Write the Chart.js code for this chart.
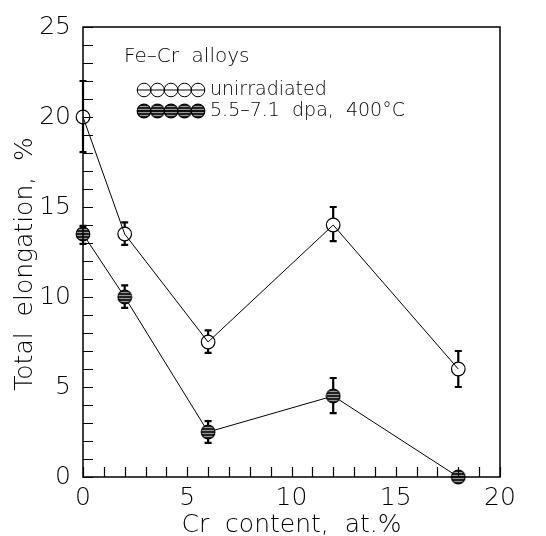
<!DOCTYPE html>
<html>
<head>
<meta charset="utf-8">
<script src="https://cdn.jsdelivr.net/npm/chart.js@4"></script>
<style>
  html, body { margin: 0; padding: 0; background: #fff; }
</style>
</head>
<body>
<canvas id="chart" width="546" height="536"></canvas>
<script>
// data
const crContent = [0, 2, 6, 12, 18];
const unirradiated = [20, 13.5, 7.5, 14, 6];
const unirrLow = [18.05, 12.9, 6.9, 13.1, 5.0];
const unirrHigh = [22.0, 14.15, 8.15, 15.0, 7.0];
const irradiated = [13.5, 10, 2.5, 4.5, 0];
const irrLow = [12.95, 9.4, 1.9, 3.55, 0];
const irrHigh = [13.95, 10.65, 3.1, 5.5, 0];
const seriesNames = ['unirradiated', '5.5\u20137.1  dpa,  400\u00b0C'];
const legendTitle = 'Fe\u2013Cr  alloys';

const FONT = '"DejaVu Sans", sans-serif';
const W = '200';
const R = 6.8;

function hatchedCircle() {
  const c = document.createElement('canvas');
  c.width = 16; c.height = 16;
  const g = c.getContext('2d');
  g.save();
  g.beginPath();
  g.arc(8, 8, R, 0, Math.PI * 2);
  g.fillStyle = '#222';
  g.fill();
  g.clip();
  g.strokeStyle = '#999';
  g.lineWidth = 1;
  for (let y = 3.5; y < 16; y += 3) {
    g.beginPath(); g.moveTo(0, y); g.lineTo(16, y); g.stroke();
  }
  g.restore();
  g.beginPath();
  g.arc(8, 8, R, 0, Math.PI * 2);
  g.strokeStyle = '#000';
  g.lineWidth = 1.2;
  g.stroke();
  return c;
}
const hatch = hatchedCircle();

function toPoints(xs, ys) {
  return xs.map((x, i) => ({ x: x, y: ys[i] }));
}

// error bars, box, inward ticks and the legend block
const extras = {
  id: 'extras',
  beforeDatasetsDraw(chart) {
    const ctx = chart.ctx;
    const xs = chart.scales.x, ys = chart.scales.y;
    const bars = [[unirradiated, unirrLow, unirrHigh], [irradiated, irrLow, irrHigh]];
    ctx.save();
    ctx.strokeStyle = '#000';
    ctx.lineWidth = 2.2;
    bars.forEach(([vals, lo, hi]) => {
      crContent.forEach((cx, i) => {
        if (hi[i] - lo[i] <= 0) return;
        const px = xs.getPixelForValue(cx);
        const py = ys.getPixelForValue(vals[i]);
        const top = ys.getPixelForValue(hi[i]);
        const bot = ys.getPixelForValue(lo[i]);
        ctx.beginPath();
        if (top < py - R) { ctx.moveTo(px, top); ctx.lineTo(px, py - R); }
        if (bot > py + R) { ctx.moveTo(px, py + R); ctx.lineTo(px, bot); }
        ctx.moveTo(px - 3.5, top); ctx.lineTo(px + 3.5, top);
        ctx.moveTo(px - 3.5, bot); ctx.lineTo(px + 3.5, bot);
        ctx.stroke();
      });
    });
    ctx.restore();
  },
  afterDraw(chart) {
    const ctx = chart.ctx;
    const a = chart.chartArea;
    const xs = chart.scales.x, ys = chart.scales.y;
    ctx.save();
    ctx.strokeStyle = '#000';
    ctx.lineWidth = 1.5;
    ctx.strokeRect(a.left, a.top, a.right - a.left, a.bottom - a.top);
    ctx.lineWidth = 1.2;
    ctx.beginPath();
    xs.ticks.forEach(t => {
      const p = Math.round(xs.getPixelForValue(t.value)) + 0.5;
      ctx.moveTo(p, a.bottom); ctx.lineTo(p, a.bottom - 10);
    });
    ys.ticks.forEach(t => {
      const p = Math.round(ys.getPixelForValue(t.value)) + 0.5;
      ctx.moveTo(a.left, p); ctx.lineTo(a.left + 10, p);
    });
    ctx.stroke();

    // legend
    ctx.fillStyle = '#000';
    ctx.font = W + ' 20px ' + FONT;
    ctx.textBaseline = 'middle';
    ctx.fillText(legendTitle, 124, 57);
    ctx.font = W + ' 19px ' + FONT;
    const rows = [90, 111];
    rows.forEach((y, k) => {
      ctx.lineWidth = 1;
      for (let j = 0; j < 5; j++) {
        const cx = 144 + j * 13.5;
        if (k === 0) {
          ctx.beginPath();
          ctx.arc(cx, y, R, 0, Math.PI * 2);
          ctx.stroke();
        } else {
          ctx.drawImage(hatch, cx - 8, y - 8);
        }
      }
      ctx.beginPath();
      ctx.moveTo(137, y); ctx.lineTo(205, y);
      ctx.stroke();
      ctx.fillText(seriesNames[k], 210, y);
    });
    ctx.restore();
  }
};

new Chart(document.getElementById('chart'), {
  type: 'line',
  data: {
    datasets: [{
      label: seriesNames[0],
      data: toPoints(crContent, unirradiated),
      borderColor: '#000',
      borderWidth: 1,
      pointStyle: 'circle',
      pointRadius: R,
      pointBorderWidth: 1.2,
      pointBorderColor: '#000',
      pointBackgroundColor: 'rgba(0,0,0,0)',
      tension: 0,
      clip: false
    }, {
      label: seriesNames[1],
      data: toPoints(crContent, irradiated),
      borderColor: '#000',
      borderWidth: 1,
      pointStyle: hatch,
      pointRadius: R,
      tension: 0,
      clip: false
    }]
  },
  options: {
    responsive: false,
    animation: false,
    devicePixelRatio: 1,
    layout: { padding: { left: 0, right: 46, top: 20, bottom: 0 } },
    plugins: {
      legend: { display: false },
      tooltip: { enabled: false }
    },
    scales: {
      x: {
        type: 'linear',
        min: 0, max: 20,
        grid: { display: false, drawTicks: false },
        border: { display: false },
        ticks: {
          stepSize: 1,
          autoSkip: false,
          maxRotation: 0,
          padding: 6,
          color: '#000',
          font: { family: FONT, size: 25, weight: W },
          callback: v => (v % 5 === 0 ? v : '')
        },
        title: {
          display: true,
          text: 'Cr  content,  at.%',
          color: '#000',
          padding: { top: 0, bottom: -4 },
          font: { family: FONT, size: 25, weight: W }
        },
        afterFit: s => { s.height = 59; }
      },
      y: {
        min: 0, max: 25,
        grid: { display: false, drawTicks: false },
        border: { display: false },
        ticks: {
          stepSize: 1,
          autoSkip: false,
          padding: 12,
          color: '#000',
          font: { family: FONT, size: 25, weight: W },
          callback: v => (v % 5 === 0 ? v : '')
        },
        title: {
          display: true,
          text: 'Total  elongation,  %\u00a0\u00a0\u00a0',
          color: '#000',
          padding: { top: 10, bottom: 0 },
          font: { family: FONT, size: 25, weight: W }
        },
        afterFit: s => { s.width = 83; }
      }
    }
  },
  plugins: [extras]
});
</script>
</body>
</html>
